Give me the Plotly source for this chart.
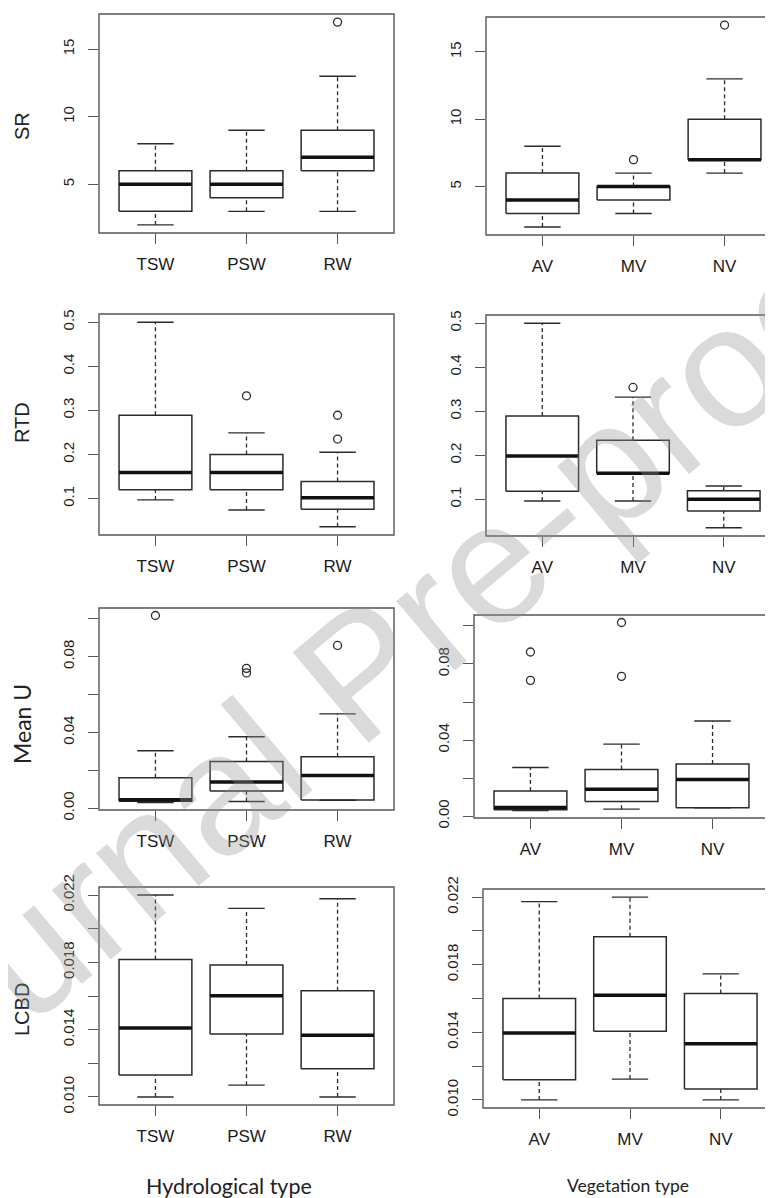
import plotly.graph_objects as go

W, H = 773, 1198          # browser window
OFF = 8                   # default page (body) margin of the html page
FW, FH = W - OFF, H - OFF # figure size so that the figure fills the window

# ---------------- data ----------------
HYD_CATS = ["TSW", "PSW", "RW"]
VEG_CATS = ["AV", "MV", "NV"]

# five-number summaries per group: [lower whisker, Q1, median, Q3, upper whisker]
SR_HYD_STATS = [[2, 3, 5, 6, 8], [3, 4, 5, 6, 9], [3, 6, 7, 9, 13]]
SR_HYD_OUT = [[], [], [17]]
SR_VEG_STATS = [[2, 3, 4, 6, 8], [3, 4, 5, 5, 6], [6, 7, 7, 10, 13]]
SR_VEG_OUT = [[], [7], [17]]

RTD_HYD_STATS = [[0.097, 0.120, 0.159, 0.289, 0.500],
                 [0.074, 0.120, 0.159, 0.200, 0.249],
                 [0.036, 0.076, 0.102, 0.139, 0.205]]
RTD_HYD_OUT = [[], [0.333], [0.235, 0.289]]
RTD_VEG_STATS = [[0.096, 0.118, 0.198, 0.289, 0.500],
                 [0.096, 0.159, 0.159, 0.234, 0.332],
                 [0.035, 0.073, 0.100, 0.119, 0.130]]
RTD_VEG_OUT = [[], [0.354], []]

MU_HYD_STATS = [[0.0030, 0.0037, 0.0045, 0.0161, 0.0303],
                [0.0035, 0.0091, 0.0138, 0.0247, 0.0377],
                [0.0042, 0.0043, 0.0172, 0.0272, 0.0498]]
MU_HYD_OUT = [[0.1017], [0.0714, 0.0738], [0.0859]]
MU_VEG_STATS = [[0.0030, 0.0034, 0.0046, 0.0132, 0.0256],
                [0.0037, 0.0077, 0.0142, 0.0246, 0.0379],
                [0.0044, 0.0045, 0.0193, 0.0274, 0.0500]]
MU_VEG_OUT = [[0.0714, 0.0863], [0.0735, 0.1018], []]

LCBD_HYD_STATS = [[0.0100, 0.0113, 0.0141, 0.01817, 0.0220],
                  [0.0107, 0.01374, 0.01601, 0.01784, 0.02121],
                  [0.0100, 0.01168, 0.01366, 0.01631, 0.02178]]
LCBD_HYD_OUT = [[], [], []]
LCBD_VEG_STATS = [[0.0100, 0.01119, 0.01396, 0.0160, 0.02173],
                  [0.01123, 0.01406, 0.01619, 0.01965, 0.0220],
                  [0.0100, 0.01065, 0.01332, 0.01629, 0.01746]]
LCBD_VEG_OUT = [[], [], []]

SR_TICKS = [5, 10, 15]
SR_LABELS = ["5", "10", "15"]
RTD_TICKS = [0.1, 0.2, 0.3, 0.4, 0.5]
RTD_LABELS = ["0.1", "0.2", "0.3", "0.4", "0.5"]
MU_TICKS = [0.00, 0.02, 0.04, 0.06, 0.08, 0.10]
MU_LABELS = ["0.00", "", "0.04", "", "0.08", ""]
LCBD_TICKS = [0.010, 0.012, 0.014, 0.016, 0.018, 0.020, 0.022]
LCBD_LABELS = ["0.010", "", "0.014", "", "0.018", "", "0.022"]

ROW_TITLES = ["SR", "RTD", "Mean U", "LCBD"]
COL_TITLES = ["Hydrological type", "Vegetation type"]
WATERMARK = "Journal Pre-proof"

# ---------------- layout (window-pixel boxes of each panel frame) ----------------
PANELS = [
    (SR_HYD_STATS, SR_HYD_OUT, HYD_CATS, SR_TICKS, SR_LABELS, (99, 394, 14, 233)),
    (SR_VEG_STATS, SR_VEG_OUT, VEG_CATS, SR_TICKS, SR_LABELS, (486, 781, 17, 235)),
    (RTD_HYD_STATS, RTD_HYD_OUT, HYD_CATS, RTD_TICKS, RTD_LABELS, (99, 394, 314, 535)),
    (RTD_VEG_STATS, RTD_VEG_OUT, VEG_CATS, RTD_TICKS, RTD_LABELS, (486, 780, 315, 536)),
    (MU_HYD_STATS, MU_HYD_OUT, HYD_CATS, MU_TICKS, MU_LABELS, (99, 394, 608, 810)),
    (MU_VEG_STATS, MU_VEG_OUT, VEG_CATS, MU_TICKS, MU_LABELS, (474, 769, 615, 818)),
    (LCBD_HYD_STATS, LCBD_HYD_OUT, HYD_CATS, LCBD_TICKS, LCBD_LABELS, (99, 394, 887, 1105)),
    (LCBD_VEG_STATS, LCBD_VEG_OUT, VEG_CATS, LCBD_TICKS, LCBD_LABELS, (483, 777, 889, 1108)),
]


def fx(px):
    return (px - OFF) / FW


def fy(py):
    return 1 - (py - OFF) / FH


BOX_HALF = 0.4
CAP_HALF = 0.2
LINE_COL = "#2b2b2b"
FRAME_COL = "#555555"
TICK_FONT = dict(family="Liberation Sans Narrow, Arial Narrow, Liberation Sans, Arial", size=15, color="#1e1e1e")
XTICK_FONT = dict(family="Liberation Sans, Arial", size=17, color="#1a1a1a")

fig = go.Figure()
shapes = []
layout = {}

for k, (stats, outs, cats, yt, yl, (px0, px1, py0, py1)) in enumerate(PANELS, start=1):
    xs = "x" if k == 1 else f"x{k}"
    ys = "y" if k == 1 else f"y{k}"
    xaxis_key = "xaxis" if k == 1 else f"xaxis{k}"
    yaxis_key = "yaxis" if k == 1 else f"yaxis{k}"

    n = len(cats)
    # R-style ranges (4% expansion)
    xlo, xhi = 0.5, n + 0.5
    xpad = 0.04 * (xhi - xlo)
    xr0, xr1 = xlo - xpad, xhi + xpad
    vis_px1 = min(px1, W)
    ppu = (px1 - px0) / (xr1 - xr0)
    xr1_vis = xr0 + (vis_px1 - px0) / ppu

    allv = [v for s in stats for v in s] + [v for o in outs for v in o]
    ylo, yhi = min(allv), max(allv)
    ypad = 0.04 * (yhi - ylo)

    bx, by, mx, my, wx, wy, cx, cy, ox, oy = [], [], [], [], [], [], [], [], [], []
    for i, (lo, q1, med, q3, hi) in enumerate(stats, start=1):
        bx += [i - BOX_HALF, i + BOX_HALF, i + BOX_HALF, i - BOX_HALF, i - BOX_HALF, None]
        by += [q1, q1, q3, q3, q1, None]
        mx += [i - BOX_HALF, i + BOX_HALF, None]
        my += [med, med, None]
        wx += [i, i, None, i, i, None]
        wy += [lo, q1, None, q3, hi, None]
        cx += [i - CAP_HALF, i + CAP_HALF, None, i - CAP_HALF, i + CAP_HALF, None]
        cy += [lo, lo, None, hi, hi, None]
        for v in outs[i - 1]:
            ox.append(i)
            oy.append(v)

    common = dict(xaxis=xs, yaxis=ys, showlegend=False, hoverinfo="skip")
    fig.add_trace(go.Scatter(x=wx, y=wy, mode="lines",
                             line=dict(color=LINE_COL, width=1.3, dash="4px,3px"), **common))
    fig.add_trace(go.Scatter(x=cx, y=cy, mode="lines",
                             line=dict(color=LINE_COL, width=1.4), **common))
    fig.add_trace(go.Scatter(x=bx, y=by, mode="lines",
                             line=dict(color=LINE_COL, width=1.5), **common))
    fig.add_trace(go.Scatter(x=mx, y=my, mode="lines",
                             line=dict(color="#111111", width=3.5), **common))
    if ox:
        fig.add_trace(go.Scatter(x=ox, y=oy, mode="markers",
                                 marker=dict(symbol="circle-open", size=8, color=LINE_COL,
                                             line=dict(width=1.3, color=LINE_COL)), **common))

    layout[xaxis_key] = dict(
        domain=[fx(px0), fx(vis_px1)], range=[xr0, xr1_vis], anchor=ys,
        tickmode="array", tickvals=list(range(1, n + 1)), ticktext=cats,
        ticks="outside", ticklen=10, tickwidth=1.3, tickcolor=FRAME_COL,
        showgrid=False, zeroline=False, showline=False, automargin=False,
        tickfont=XTICK_FONT, ticklabelstandoff=6, fixedrange=True,
    )
    layout[yaxis_key] = dict(
        domain=[fy(py1), fy(py0)], range=[ylo - ypad, yhi + ypad], anchor=xs,
        tickmode="array", tickvals=yt, ticktext=yl, tickangle=-90,
        ticks="outside", ticklen=10, tickwidth=1.3, tickcolor=FRAME_COL,
        showgrid=False, zeroline=False, showline=False, automargin=False,
        tickfont=TICK_FONT, ticklabelstandoff=8, fixedrange=True,
    )
    shapes.append(dict(type="rect", xref=f"{xs} domain", yref=f"{ys} domain",
                       x0=0, x1=(px1 - px0) / (vis_px1 - px0), y0=0, y1=1,
                       line=dict(color=FRAME_COL, width=1.4), layer="above"))

annotations = []
ROW_TITLE_POS = [(22, 126), (22, 423), (22, 724), (22, 1010)]
ROW_TITLE_FONTS = [
    dict(family="Liberation Sans Narrow, Arial Narrow, Liberation Sans", size=20, color="#222"),
    dict(family="Liberation Sans Narrow, Arial Narrow, Liberation Sans", size=20, color="#222"),
    dict(family="Lato, Open Sans, sans-serif", size=23, color="#222"),
    dict(family="Liberation Sans Narrow, Arial Narrow, Liberation Sans", size=20, color="#222"),
]
for t, (px, py), f in zip(ROW_TITLES, ROW_TITLE_POS, ROW_TITLE_FONTS):
    annotations.append(dict(text=t, x=fx(px), y=fy(py), xref="paper", yref="paper",
                            showarrow=False, textangle=-90, font=f,
                            xanchor="center", yanchor="middle"))

COL_TITLE_POS = [(229, 1186), (628, 1185)]
COL_TITLE_SIZES = [21.5, 17.5]
for t, (px, py), s in zip(COL_TITLES, COL_TITLE_POS, COL_TITLE_SIZES):
    annotations.append(dict(text=t, x=fx(px), y=fy(py), xref="paper", yref="paper",
                            showarrow=False, font=dict(family="Lato, Open Sans, sans-serif",
                                                       size=s, color="#222"),
                            xanchor="center", yanchor="middle"))

annotations.append(dict(text=WATERMARK, x=fx(360), y=fy(672), xref="paper", yref="paper",
                        showarrow=False, textangle=-40,
                        font=dict(family="Liberation Sans, Arial", size=172,
                                  color="rgba(150,150,150,0.35)"),
                        xanchor="center", yanchor="middle"))

fig.update_layout(
    width=FW, height=FH,
    margin=dict(l=0, r=0, t=0, b=0, autoexpand=False),
    paper_bgcolor="white", plot_bgcolor="white",
    shapes=shapes, annotations=annotations,
    showlegend=False,
    **layout,
)

fig.write_html("out.html")
